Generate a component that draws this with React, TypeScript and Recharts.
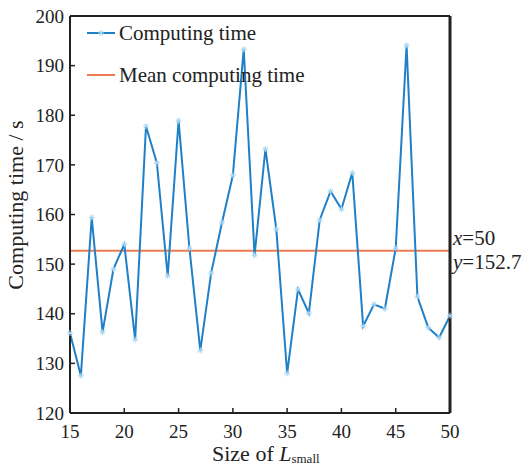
import { LineChart, Line, XAxis, YAxis, ReferenceLine } from "recharts";

const sizes = [
  15, 16, 17, 18, 19, 20, 21, 22, 23, 24, 25, 26, 27, 28, 29, 30, 31, 32,
  33, 34, 35, 36, 37, 38, 39, 40, 41, 42, 43, 44, 45, 46, 47, 48, 49, 50,
];
const times = [
  136.1, 127.5, 159.4, 136.3, 149.0, 154.0, 134.8, 177.8, 170.4, 147.6, 178.9,
  153.2, 132.6, 148.2, 158.4, 167.9, 193.3, 151.8, 173.2, 157.1, 128.0, 144.9,
  140.1, 158.9, 164.7, 161.1, 168.4, 137.5, 141.9, 141.0, 153.2, 194.1, 143.4,
  137.2, 135.2, 139.6,
];
const meanTime = 152.7;
const xTicks = [15, 20, 25, 30, 35, 40, 45, 50];
const yTicks = [120, 130, 140, 150, 160, 170, 180, 190, 200];
const seriesNames = ["Computing time", "Mean computing time"];

const BLUE = "#1f80c8";
const STAR = "#a9d6f2";
const ORANGE = "#ec7b4f";
const INK = "#222";
const FONT = "'Liberation Serif', 'Times New Roman', serif";

const data = sizes.map((s, i) => ({ size: s, time: times[i] }));

function Star({ cx, cy, r = 3 }: { cx: number; cy: number; r?: number }) {
  const d = r * 0.7;
  return (
    <g stroke={STAR} strokeWidth={1}>
      <line x1={cx - r} y1={cy} x2={cx + r} y2={cy} />
      <line x1={cx} y1={cy - r} x2={cx} y2={cy + r} />
      <line x1={cx - d} y1={cy - d} x2={cx + d} y2={cy + d} />
      <line x1={cx - d} y1={cy + d} x2={cx + d} y2={cy - d} />
    </g>
  );
}

function StarDot(props: any) {
  const { cx, cy, index } = props;
  if (cx == null || cy == null) return <g key={index} />;
  return <Star key={index} cx={cx} cy={cy} />;
}

function MeanLabel(props: any) {
  const { viewBox } = props;
  const x = viewBox.x + viewBox.width + 3;
  const y = viewBox.y;
  return (
    <text fontFamily={FONT} fontSize={21} fill={INK}>
      <tspan x={x} y={y - 6}>
        <tspan fontStyle="italic">x</tspan>=50
      </tspan>
      <tspan x={x} y={y + 18}>
        <tspan fontStyle="italic">y</tspan>={meanTime}
      </tspan>
    </text>
  );
}

function XLabel(props: any) {
  const { viewBox } = props;
  const cx = viewBox.x + viewBox.width / 2;
  return (
    <text x={cx - 48} y={461} fontFamily={FONT} fontSize={22} fill={INK}>
      Size of <tspan fontStyle="italic">L</tspan>
      <tspan fontSize={13} dy={2}>small</tspan>
    </text>
  );
}

function YLabel() {
  const cy = 205;
  return (
    <text
      x={15}
      y={cy}
      transform={`rotate(-90, 15, ${cy})`}
      textAnchor="middle"
      dominantBaseline="central"
      fontFamily={FONT}
      fontSize={22}
      fill={INK}
    >
      Computing time / s
    </text>
  );
}

function ChartLegend() {
  const colors = [BLUE, ORANGE];
  return (
    <div
      style={{
        position: "absolute",
        left: 87,
        top: 19,
        fontFamily: FONT,
        fontSize: 21,
        color: INK,
        lineHeight: "28px",
      }}
    >
      {seriesNames.map((name, i) => (
        <div
          key={name}
          style={{ display: "flex", alignItems: "center", marginBottom: 14 }}
        >
          <svg width={30} height={10} style={{ marginRight: 2 }}>
            <line x1={0} y1={5} x2={28} y2={5} stroke={colors[i]} strokeWidth={2} />
            {i === 0 && <Star cx={14} cy={5} />}
          </svg>
          <span>{name}</span>
        </div>
      ))}
    </div>
  );
}

export default function App() {
  const tickStyle = { fontFamily: FONT, fontSize: 19, fill: INK };
  return (
    <div
      style={{
        position: "absolute",
        left: 0,
        top: 0,
        width: 522,
        height: 466,
        background: "#fff",
        fontFamily: FONT,
      }}
    >
      <LineChart
        width={522}
        height={466}
        data={data}
        margin={{ top: 15, right: 71, bottom: 0, left: 0 }}
      >
        <XAxis
          dataKey="size"
          type="number"
          domain={[15, 50]}
          ticks={xTicks}
          height={53}
          tickSize={-5}
          tickMargin={17}
          tick={tickStyle}
          stroke={INK}
          strokeWidth={2}
          tickLine={{ stroke: INK, strokeWidth: 1.5 }}
          label={<XLabelWrap />}
        />
        <XAxis
          xAxisId="top"
          orientation="top"
          dataKey="size"
          type="number"
          domain={[15, 50]}
          height={1}
          tick={false}
          tickLine={false}
          stroke={INK}
          strokeWidth={2}
        />
        <YAxis
          type="number"
          domain={[120, 200]}
          ticks={yTicks}
          width={70}
          tickSize={-5}
          tickMargin={11}
          tick={tickStyle}
          stroke={INK}
          strokeWidth={2}
          tickLine={{ stroke: INK, strokeWidth: 1.5 }}
          label={<YLabel />}
        />
        <YAxis
          yAxisId="right"
          orientation="right"
          type="number"
          domain={[120, 200]}
          width={1}
          tick={false}
          tickLine={false}
          stroke={INK}
          strokeWidth={3}
        />
        <ReferenceLine
          y={meanTime}
          stroke={ORANGE}
          strokeWidth={2}
          label={<MeanLabel />}
          ifOverflow="visible"
        />
        <Line
          type="linear"
          dataKey="time"
          name={seriesNames[0]}
          stroke={BLUE}
          strokeWidth={2}
          dot={<StarDot />}
          activeDot={false}
          isAnimationActive={false}
        />
      </LineChart>
      <ChartLegend />
    </div>
  );
}

function XLabelWrap(props: any) {
  return <XLabel {...props} />;
}
